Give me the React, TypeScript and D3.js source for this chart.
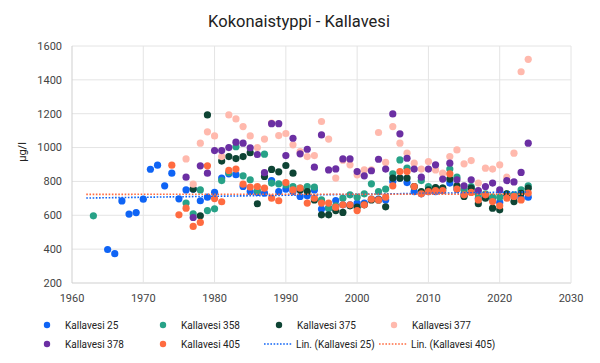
import React, { useEffect, useRef } from "react";
import * as d3 from "d3";

// shared year axis for all sampling stations
const years = [
  1963, 1964, 1965, 1966, 1967, 1968, 1969, 1970, 1971, 1972, 1973, 1974,
  1975, 1976, 1977, 1978, 1979, 1980, 1981, 1982, 1983, 1984, 1985, 1986,
  1987, 1988, 1989, 1990, 1991, 1992, 1993, 1994, 1995, 1996, 1997, 1998,
  1999, 2000, 2001, 2002, 2003, 2004, 2005, 2006, 2007, 2008, 2009, 2010,
  2011, 2012, 2013, 2014, 2015, 2016, 2017, 2018, 2019, 2020, 2021, 2022,
  2023, 2024,
];

const kallavesi25 = [
  null, null, 398, 373, 685, 607, 616, 695, 872, 896, 774, 849,
  697, 750, 755, 686, 707, 735, 820, 845, 840, 770, 740, 735,
  731, 805, 740, 755, 740, 711, 715, 750, 637, 642, 687, 662,
  662, 672, 672, 695, 695, 691, 800, 820, 793, 740, 727, 740,
  740, 745, 790, 755, 720, 740, 700, 720, 700, 676, 720, 710,
  700, 707,
];
const kallavesi358 = [
  597, null, null, null, null, null, null, null, null, null, null, null,
  null, 672, 609, 750, 628, 638, 805, 852, 1005, 833, 810, 746,
  961, 790, 786, 780, 770, 760, 770, 766, 691, 642, 656, 701,
  721, 707, 727, 786, 740, 755, 845, 927, 878, 770, 805, 770,
  760, 760, 873, 825, 750, 770, 721, 727, 707, 707, 727, 720,
  750, 774,
];
const kallavesi375 = [
  null, null, null, null, null, null, null, null, null, null, null, null,
  null, null, 755, 597, 1193, null, 920, 947, 935, 947, 970, 668,
  829, 871, 857, 894, 849, 750, 740, 691, 603, 603, 628, 617,
  656, 648, 662, 691, 691, 650, 820, 820, 820, 770, 740, 750,
  764, 760, 814, 774, 711, 760, 668, 701, 642, 632, 727, 681,
  730, 760,
];
const kallavesi377 = [
  null, null, null, null, null, null, null, null, null, null, null, null,
  null, 933, 784, 1026, 1093, 1069, 947, 1193, 1169, 1124, 1069, 1000,
  1050, 1144, 1071, 1083, 1016, 976, 947, 953, 1154, 1050, 820, 925,
  898, 839, 868, 868, 1089, 912, 1124, 1026, 967, 908, 873, 917,
  868, 849, 947, 986, 904, 923, 790, 878, 873, 898, 825, 967,
  1448, 1521,
];
const kallavesi378 = [
  null, null, null, null, null, null, null, null, null, null, null, null,
  null, 825, 587, 892, 849, 982, 982, 1000, 1032, 1026, 999, 959,
  852, 1141, 1141, 953, 1055, 963, 990, 884, 1075, 868, 874, 933,
  933, 858, 833, 863, 931, 873, 1199, 1081, 937, 873, 825, 873,
  898, 814, 908, 810, 774, 810, 746, 770, 790, 750, 805, 797,
  853, 1026,
];
const kallavesi405 = [
  null, null, null, null, null, null, null, null, null, null, null, 896,
  603, 642, 534, 558, 892, 699, 680, 865, 873, 784, 767, 770,
  760, 701, 686, 793, 750, 760, 672, 701, 672, 672, 648, 662,
  662, 628, 662, 695, 691, 707, 774, 858, 858, 770, 727, 740,
  746, 746, 845, 755, 721, 735, 691, 721, 681, 656, 701, 711,
  691, 731,
];

const seriesNames = [
  "Kallavesi 25",
  "Kallavesi 358",
  "Kallavesi 375",
  "Kallavesi 377",
  "Kallavesi 378",
  "Kallavesi 405",
];
const seriesValues = [
  kallavesi25,
  kallavesi358,
  kallavesi375,
  kallavesi377,
  kallavesi378,
  kallavesi405,
];
const colors = ["#0f64f5", "#27a287", "#0e4434", "#ffb9ad", "#6b2fa3", "#ff6b40"];

const xTicks = [1960, 1970, 1980, 1990, 2000, 2010, 2020, 2030];
const yTicks = [200, 400, 600, 800, 1000, 1200, 1400, 1600];
const trendRange = [1962, 2024];

// least squares fit over the points that exist
const linFit = (vals: (number | null)[]) => {
  const pts = years
    .map((yr, i) => [yr, vals[i]] as [number, number | null])
    .filter((p) => p[1] != null) as [number, number][];
  const mx = d3.mean(pts, (p) => p[0])!;
  const my = d3.mean(pts, (p) => p[1])!;
  const sxy = d3.sum(pts, (p) => (p[0] - mx) * (p[1] - my));
  const sxx = d3.sum(pts, (p) => (p[0] - mx) ** 2);
  const slope = sxy / sxx;
  return (yr: number) => my + slope * (yr - mx);
};

const App = () => {
  const svgRef = useRef<SVGSVGElement>(null);

  useEffect(() => {
    const svg = d3.select(svgRef.current);
    svg.selectAll("*").remove();

    const xScale = d3.scaleLinear().domain([1960, 2030]).range([72, 571]);
    const yScale = d3.scaleLinear().domain([200, 1600]).range([283, 46]);

    // title
    svg
      .append("text")
      .attr("x", 299)
      .attr("y", 27)
      .attr("text-anchor", "middle")
      .style("font-size", "16.5px")
      .attr("fill", "#222")
      .text("Kokonaistyppi - Kallavesi");

    // grid
    svg
      .append("g")
      .selectAll("line")
      .data(yTicks)
      .join("line")
      .attr("x1", xScale(1960))
      .attr("x2", xScale(2030))
      .attr("y1", (d) => yScale(d))
      .attr("y2", (d) => yScale(d))
      .attr("stroke", (d) => (d === 200 ? "#cfcfcf" : "#e4e4e4"))
      .attr("stroke-width", 1);
    svg
      .append("g")
      .selectAll("line")
      .data(xTicks)
      .join("line")
      .attr("x1", (d) => xScale(d))
      .attr("x2", (d) => xScale(d))
      .attr("y1", yScale(200))
      .attr("y2", yScale(1600))
      .attr("stroke", (d) => (d === 1960 ? "#cfcfcf" : "#e4e4e4"))
      .attr("stroke-width", 1);

    // tick labels
    svg
      .append("g")
      .selectAll("text")
      .data(yTicks)
      .join("text")
      .attr("x", 62)
      .attr("y", (d) => yScale(d))
      .attr("dy", "0.35em")
      .attr("text-anchor", "end")
      .style("font-size", "11px")
      .attr("fill", "#444")
      .text((d) => d);
    svg
      .append("g")
      .selectAll("text")
      .data(xTicks)
      .join("text")
      .attr("x", (d) => xScale(d))
      .attr("y", 302)
      .attr("text-anchor", "middle")
      .style("font-size", "11px")
      .attr("fill", "#444")
      .text((d) => d);

    // y-axis label
    svg
      .append("text")
      .attr("transform", "translate(26,152) rotate(-90)")
      .attr("text-anchor", "middle")
      .style("font-size", "11px")
      .attr("fill", "#222")
      .text("µg/l");

    // points
    seriesValues.forEach((vals, si) => {
      const pts = years
        .map((yr, i) => ({ yr, v: vals[i] }))
        .filter((d) => d.v != null);
      svg
        .append("g")
        .selectAll("circle")
        .data(pts)
        .join("circle")
        .attr("cx", (d) => xScale(d.yr))
        .attr("cy", (d) => yScale(d.v as number))
        .attr("r", 3.6)
        .attr("fill", colors[si]);
    });

    // trend lines
    const trends = [
      { vals: kallavesi25, color: colors[0] },
      { vals: kallavesi405, color: colors[5] },
    ];
    trends.forEach((t) => {
      const f = linFit(t.vals);
      svg
        .append("line")
        .attr("x1", xScale(trendRange[0]))
        .attr("x2", xScale(trendRange[1]))
        .attr("y1", yScale(f(trendRange[0])))
        .attr("y2", yScale(f(trendRange[1])))
        .attr("stroke", t.color)
        .attr("stroke-width", 1.6)
        .attr("stroke-dasharray", "1.6 1.6");
    });

    // legend
    const legendItems = [
      ...seriesNames.map((n, i) => ({ label: n, color: colors[i], line: false })),
      { label: "Lin. (Kallavesi 25)", color: colors[0], line: true },
      { label: "Lin. (Kallavesi 405)", color: colors[5], line: true },
    ];
    const colX = [47, 163, 279, 394];
    const rowY = [325, 344];
    legendItems.forEach((it, i) => {
      const cx = colX[i % 4];
      const cy = rowY[Math.floor(i / 4)];
      if (it.line) {
        svg
          .append("line")
          .attr("x1", cx - 15)
          .attr("x2", cx + 13)
          .attr("y1", cy)
          .attr("y2", cy)
          .attr("stroke", it.color)
          .attr("stroke-width", 1.6)
          .attr("stroke-dasharray", "1.6 1.6");
        svg
          .append("text")
          .attr("x", cx + 17)
          .attr("y", cy)
          .attr("dy", "0.35em")
          .style("font-size", "10px")
          .attr("fill", "#222")
          .text(it.label);
      } else {
        svg
          .append("circle")
          .attr("cx", cx)
          .attr("cy", cy)
          .attr("r", 3.2)
          .attr("fill", it.color);
        svg
          .append("text")
          .attr("x", cx + 18)
          .attr("y", cy)
          .attr("dy", "0.35em")
          .style("font-size", "10px")
          .attr("fill", "#222")
          .text(it.label);
      }
    });
  }, []);

  return (
    <svg
      ref={svgRef}
      width={600}
      height={363}
      style={{
        position: "absolute",
        left: 0,
        top: 0,
        background: "#fff",
        fontFamily: "Roboto, 'Liberation Sans', Arial, sans-serif",
      }}
    ></svg>
  );
};

export default App;
